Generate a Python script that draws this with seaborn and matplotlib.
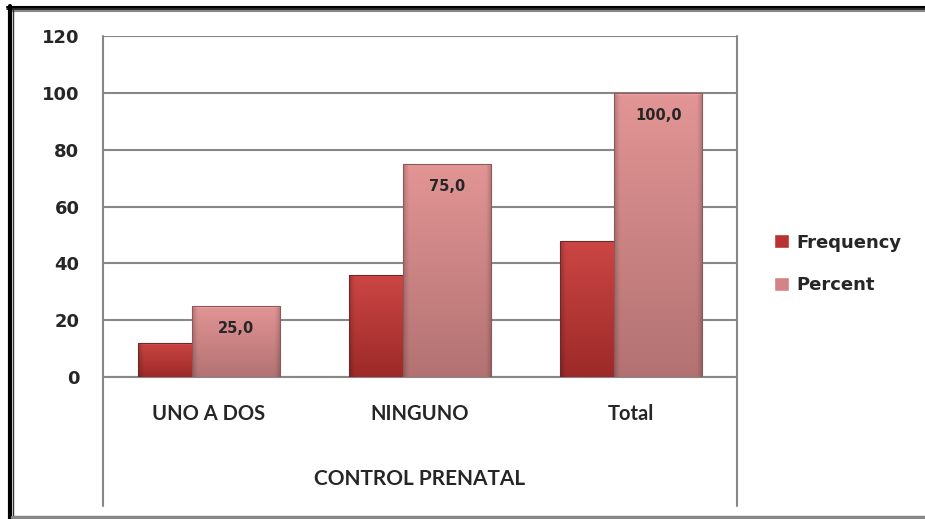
import numpy as np
import pandas as pd
import matplotlib
matplotlib.use("Agg")
import matplotlib.pyplot as plt
import seaborn as sns
from matplotlib.colors import to_rgb
from matplotlib.lines import Line2D

# ---- data ----
categories = ["UNO A DOS", "NINGUNO", "Total"]
series_names = ["Frequency", "Percent"]
frequency = [12, 36, 48]
percent = [25.0, 75.0, 100.0]
y_ticks = [0, 20, 40, 60, 80, 100, 120]
x_title = "CONTROL PRENATAL"

df = pd.DataFrame({
    "cat": categories * 2,
    "series": [series_names[0]] * 3 + [series_names[1]] * 3,
    "value": frequency + percent,
})

sns.set_theme(style="white")
plt.rcParams["font.family"] = ["Lato", "DejaVu Sans"]

W, H = 925, 519
fig = plt.figure(figsize=(W / 100, H / 100), dpi=100)
fig.patch.set_facecolor("white")
ax = fig.add_axes([103 / W, (H - 377) / H, (737 - 103) / W, (377 - 36) / H])

freq_col = "#B83331"
pct_col = "#D48485"
sns.barplot(data=df, x="cat", y="value", hue="series", order=categories,
            hue_order=series_names, palette=[freq_col, pct_col], saturation=1,
            dodge=True, ax=ax, legend=True, errorbar=None)

bar_w = 0.417
offs = [-0.128, 0.128]
grad_cols = {
    0: ("#CC4644", "#9C2A28"),
    1: ("#E39595", "#B37272"),
}
ax.set_ylim(0, 120)
ax.set_xlim(-0.5, 2.5)


def fill_gradient(bar, top_c, bot_c, z):
    x, y = bar.get_x(), bar.get_y()
    w, h = bar.get_width(), bar.get_height()
    n = 200
    t = np.linspace(0, 1, n)[:, None]
    c1, c2 = np.array(to_rgb(top_c)), np.array(to_rgb(bot_c))
    arr = (1 - t)[..., None] * c1 + t[..., None] * c2  # (n,1,3)
    arr = np.repeat(arr, 60, axis=1)
    u = np.linspace(0, 1, 60)
    side = np.clip(np.minimum(u, 1 - u) / 0.06, 0, 1)
    fac = 0.82 + 0.18 * side
    arr = arr * fac[None, :, None]
    top_band = max(2, int(n * 2.5 / max(h * 2.84, 1)))
    arr[:top_band] = np.clip(arr[:top_band] * 1.12 + 0.03, 0, 1)
    im = ax.imshow(arr, extent=[x, x + w, y, y + h], origin="upper",
                   aspect="auto", zorder=z, interpolation="bilinear")
    im.set_clip_path(bar)


for si, cont in enumerate(ax.containers):
    for ci, bar in enumerate(cont.patches):
        cx = ci + offs[si]
        bar.set_x(cx - bar_w / 2)
        bar.set_width(bar_w)
        bar.set_facecolor("none")
        bar.set_edgecolor("#6a2a2a" if si == 0 else "#8a5a5a")
        bar.set_linewidth(0.8)
        bar.set_zorder(3.05 + si * 0.2)
        fill_gradient(bar, *grad_cols[si], 3.0 + si * 0.2)

ax.set_ylim(0, 120)
ax.set_xlim(-0.5, 2.5)
ax.set_aspect("auto")

# labels on percent bars
for ci, v in enumerate(percent):
    ax.annotate(f"{v:.1f}".replace(".", ","), xy=(ci + offs[1], v),
                xytext=(0, -16.5), textcoords="offset points",
                ha="center", va="center", fontsize=10.5, fontweight="bold",
                family="DejaVu Sans", zorder=5)

# axes styling
for s in ax.spines.values():
    s.set_visible(False)
ax.set_yticks(y_ticks)
ax.yaxis.grid(True, color="#878787", linewidth=1.5)
ax.xaxis.grid(False)
ax.set_axisbelow(True)
ax.tick_params(axis="y", length=0, pad=17)
ax.tick_params(axis="x", length=0, pad=19.5)
for lab in ax.get_yticklabels():
    lab.set_fontweight("bold")
    lab.set_family("DejaVu Sans")
    lab.set_fontsize(13)
for lab in ax.get_xticklabels():
    lab.set_fontweight("bold")
    lab.set_fontsize(14.5)
ax.set_ylabel("")
ax.set_xlabel(x_title, fontsize=15, fontweight="bold", labelpad=32)

# plot area frame lines (extend below axis like Excel multi-level axis)
ybot = (377 - 506) / (377 - 36)
for xx in (0, 1):
    ax.plot([xx, xx], [ybot, 1], transform=ax.transAxes, color="#878787",
            lw=1.5, clip_on=False, zorder=1)
ax.plot([0, 1], [0, 0], transform=ax.transAxes, color="#878787", lw=1.5,
        clip_on=False, zorder=2)

# legend
leg = ax.legend(loc="center left", bbox_to_anchor=((767 - 103) / (737 - 103), (377 - 264) / (377 - 36)),
                frameon=False, handlelength=0.8, handleheight=0.8,
                labelspacing=1.38, handletextpad=0.45, borderaxespad=0,
                prop={"family": "DejaVu Sans", "weight": "bold", "size": 13})

# outer frame
def fline(x0, y0, x1, y1, c, lw):
    fig.add_artist(Line2D([x0 / W, x1 / W], [1 - y0 / H, 1 - y1 / H],
                          transform=fig.transFigure, color=c, lw=lw))

fline(7, 6.5, W, 6.5, "black", 1.5)
fline(7, 9, W, 9, "black", 1.2)
fline(12, 11, W, 11, "#888888", 1.5)
fline(9.5, 6, 9.5, H, "black", 3)
fline(12.5, 9, 12.5, H, "#333333", 1.0)
fline(12, 517, W, 517, "#888888", 2.5)

fig.savefig("out.png", dpi=100)
